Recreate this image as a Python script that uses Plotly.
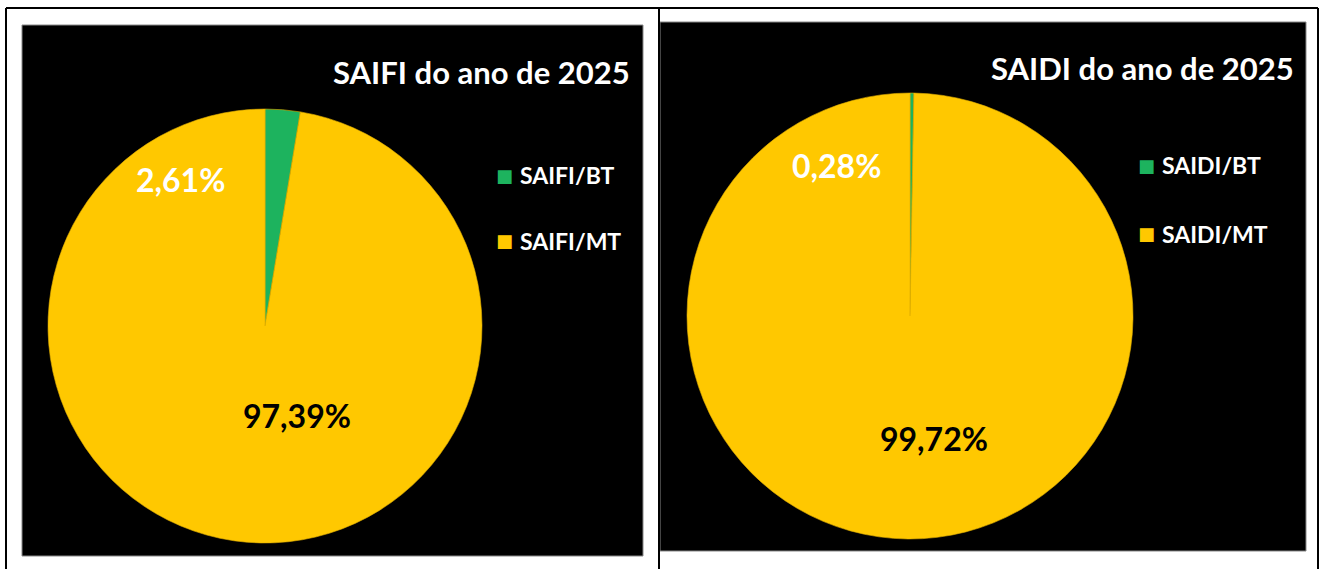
import plotly.graph_objects as go

# ---- data ----
saifi_labels = ["SAIFI/BT", "SAIFI/MT"]
saifi_values = [2.61, 97.39]
saidi_labels = ["SAIDI/BT", "SAIDI/MT"]
saidi_values = [0.28, 99.72]
slice_colors = ["#1DB35E", "#FFC800"]
titles = ["SAIFI do ano de 2025", "SAIDI do ano de 2025"]

W, H = 1322, 569
FONT = "Lato"

def px(x):
    return x / W

def py(y):
    return 1 - y / H

def fmt(v):
    return f"{v:.2f}%".replace(".", ",")

fig = go.Figure()

# pies: (labels, values, center x, center y, radius)
pies = [
    (saifi_labels, saifi_values, 265, 326, 217),
    (saidi_labels, saidi_values, 910, 316, 223),
]
for labels, values, cx, cy, r in pies:
    fig.add_trace(go.Pie(
        labels=labels, values=values, sort=False, direction="clockwise",
        rotation=0, textinfo="none", hoverinfo="label+percent",
        marker=dict(colors=slice_colors, line=dict(color="#E0AE00", width=0.6)),
        domain=dict(x=[px(cx - r), px(cx + r)], y=[py(cy + r), py(cy - r)]),
        showlegend=False,
    ))

shapes = []
# black chart panels
panels = [(22, 25, 643, 556), (660, 22, 1306, 551)]
for x0, y0, x1, y1 in panels:
    shapes.append(dict(type="rect", xref="paper", yref="paper", layer="below",
                       x0=px(x0), x1=px(x1), y0=py(y1), y1=py(y0),
                       fillcolor="black", line=dict(color="#888888", width=1)))
# table borders
for (x0, y0, x1, y1) in [(6, 8, 1318, 8), (6, 8, 6, 569), (659, 8, 659, 569), (1318, 8, 1318, 569)]:
    shapes.append(dict(type="line", xref="paper", yref="paper",
                       x0=px(x0), x1=px(x1), y0=py(y0), y1=py(y1),
                       line=dict(color="black", width=2)))

annotations = []
# titles
for t, xr, yc in [(titles[0], 632, 72), (titles[1], 1296, 68)]:
    annotations.append(dict(text=f"<b>{t}</b>", x=px(xr), y=py(yc), xref="paper", yref="paper",
                            xanchor="right", yanchor="middle", showarrow=False,
                            font=dict(family=FONT, size=31, color="white")))
# percentage labels
pct_pos = [
    [(180, 180, "white"), (297, 415, "black")],
    [(836, 165, "white"), (934, 438, "black")],
]
for (labels, values, *_), pos in zip(pies, pct_pos):
    for v, (x, y, c) in zip(values, pos):
        annotations.append(dict(text=f"<b>{fmt(v)}</b>", x=px(x), y=py(y), xref="paper", yref="paper",
                                xanchor="center", yanchor="middle", showarrow=False,
                                font=dict(family=FONT, size=32, color=c)))
# legends
leg_pos = [(504, [175, 241]), (1146, [165, 234])]
for (labels, *_), (lx, ys) in zip(pies, leg_pos):
    for lab, col, y in zip(labels, slice_colors, ys):
        annotations.append(dict(text="■", x=px(lx), y=py(y), xref="paper", yref="paper",
                                xanchor="center", yanchor="middle", showarrow=False,
                                font=dict(family="DejaVu Sans", size=18, color=col)))
        annotations.append(dict(text=f"<b>{lab}</b>", x=px(lx + 14), y=py(y), xref="paper", yref="paper",
                                xanchor="left", yanchor="middle", showarrow=False,
                                font=dict(family=FONT, size=23, color="white")))

fig.update_layout(
    width=W, height=H, margin=dict(l=0, r=0, t=0, b=0),
    paper_bgcolor="white", plot_bgcolor="white",
    shapes=shapes, annotations=annotations, showlegend=False,
)

fig.write_html("out.html", config={"displayModeBar": False},
               post_script="document.body.style.margin='0px';")
